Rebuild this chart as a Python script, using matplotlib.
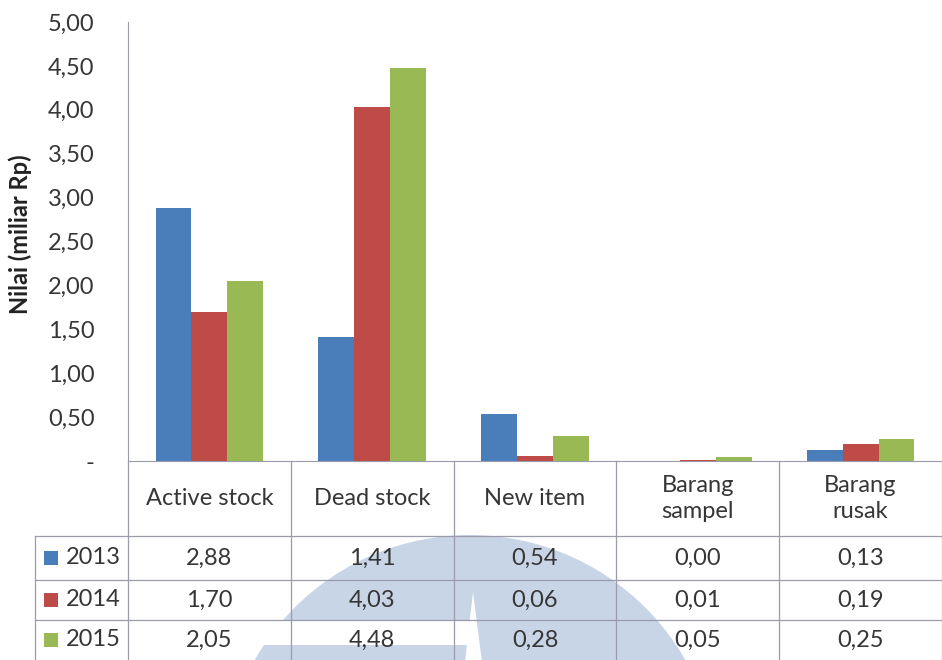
import matplotlib.pyplot as plt
import matplotlib.patches as mpatches
import matplotlib.transforms as mtransforms
import numpy as np

plt.rcParams["font.family"] = ["Lato", "DejaVu Sans"]

# ── data ─────────────────────────────────────────────────────────────────────
categories = ["Active stock", "Dead stock", "New item", "Barang\nsampel", "Barang\nrusak"]
years = ["2013", "2014", "2015"]
val_2013 = [2.88, 1.41, 0.54, 0.00, 0.13]
val_2014 = [1.70, 4.03, 0.06, 0.01, 0.19]
val_2015 = [2.05, 4.48, 0.28, 0.05, 0.25]
yticks = [0, 0.5, 1.0, 1.5, 2.0, 2.5, 3.0, 3.5, 4.0, 4.5, 5.0]

series = [val_2013, val_2014, val_2015]
colors = ["#4a7ebb", "#be4b48", "#98b954"]
text_col = "#363636"
line_col = "#9a9cac"
fs = 17

W, H = 942, 660
fig = plt.figure(figsize=(W / 100, H / 100), dpi=100)


def fx(px):
    return px / W


def fy(py):
    return 1 - py / H


# plot area in pixel terms
x0, x1 = 128, 942
y_top, y_zero = 22, 461
ax = fig.add_axes([fx(x0), fy(y_zero), fx(x1 - x0), (y_zero - y_top) / H])
ax.set_xlim(0, len(categories))
ax.set_ylim(0, 5)

# ── background logo mark behind the table ───────────────────────────────────
R = 248
cx, cy = 470, 783
logo = mpatches.Ellipse((fx(cx), fy(cy)), 2 * R / W, 2 * R / H,
                        transform=fig.transFigure, facecolor="#c8d5e7",
                        edgecolor="none", zorder=0)
fig.patches.append(logo)
band = mpatches.Rectangle((fx(200), fy(645)), fx(470 - 200), (645 - 620) / H,
                          transform=fig.transFigure, facecolor="white",
                          edgecolor="none", zorder=0.5)
fig.patches.append(band)
spike = mpatches.Polygon([(fx(473), fy(592)), (fx(465), fy(662)), (fx(482), fy(662))],
                         closed=True, transform=fig.transFigure,
                         facecolor="white", edgecolor="none", zorder=0.5)
fig.patches.append(spike)
ax.set_facecolor("none")

# ── bars ─────────────────────────────────────────────────────────────────────
x = np.arange(len(categories)) + 0.5
width = 0.22
for i, (vals, c) in enumerate(zip(series, colors)):
    ax.bar(x + (i - 1) * width, vals, width=width, color=c, zorder=3)

ax.set_xticks([])
ax.set_yticks(yticks)
ax.set_yticklabels(["-" if t == 0 else f"{t:.2f}".replace(".", ",") for t in yticks],
                   fontsize=fs, color=text_col)
ax.tick_params(axis="y", length=0, pad=24)
for lbl in ax.get_yticklabels():
    lbl.set_horizontalalignment("right")
for s in ["top", "right"]:
    ax.spines[s].set_visible(False)
ax.spines["left"].set_color(line_col)
ax.spines["bottom"].set_color(line_col)

fig.text(fx(20), fy(234), "Nilai (miliar Rp)", rotation=90, ha="center",
         va="center", fontsize=17, fontweight="bold", color="#222222")

# ── data table under the chart ──────────────────────────────────────────────
tr = mtransforms.blended_transform_factory(ax.transData, fig.transFigure)
row_edges = [461, 536, 580, 620, 660]
lw = 0.9

# vertical lines between category columns
for k in range(len(categories) + 1):
    fig.lines.append(plt.Line2D([k, k], [fy(row_edges[0]), fy(H)], transform=tr,
                                color=line_col, lw=lw, zorder=2))
# horizontal row lines (legend column starts at x=35)
for ry in row_edges[1:4]:
    fig.lines.append(plt.Line2D([fx(35), 1], [fy(ry), fy(ry)],
                                transform=fig.transFigure, color=line_col,
                                lw=lw, zorder=2))
fig.lines.append(plt.Line2D([fx(35), fx(35)], [fy(536), 0],
                            transform=fig.transFigure, color=line_col, lw=lw,
                            zorder=2))

# header labels
for k, cat in enumerate(categories):
    fig.text(k + 0.5, fy((row_edges[0] + row_edges[1]) / 2), cat, transform=tr,
             ha="center", va="center", fontsize=fs, color=text_col,
             linespacing=1.3)

# values and legend keys
for r, (yr, vals, c) in enumerate(zip(years, series, colors)):
    yc = fy((row_edges[r + 1] + row_edges[r + 2]) / 2)
    fig.patches.append(mpatches.Rectangle((fx(44), yc - 7 / H), 14 / W, 14 / H,
                                          transform=fig.transFigure,
                                          facecolor=c, edgecolor="none",
                                          zorder=3))
    fig.text(fx(66), yc, yr, ha="left", va="center", fontsize=fs, color=text_col)
    for k, v in enumerate(vals):
        fig.text(k + 0.5, yc, f"{v:.2f}".replace(".", ","), transform=tr,
                 ha="center", va="center", fontsize=fs, color=text_col)

fig.savefig("out.png", dpi=100)
